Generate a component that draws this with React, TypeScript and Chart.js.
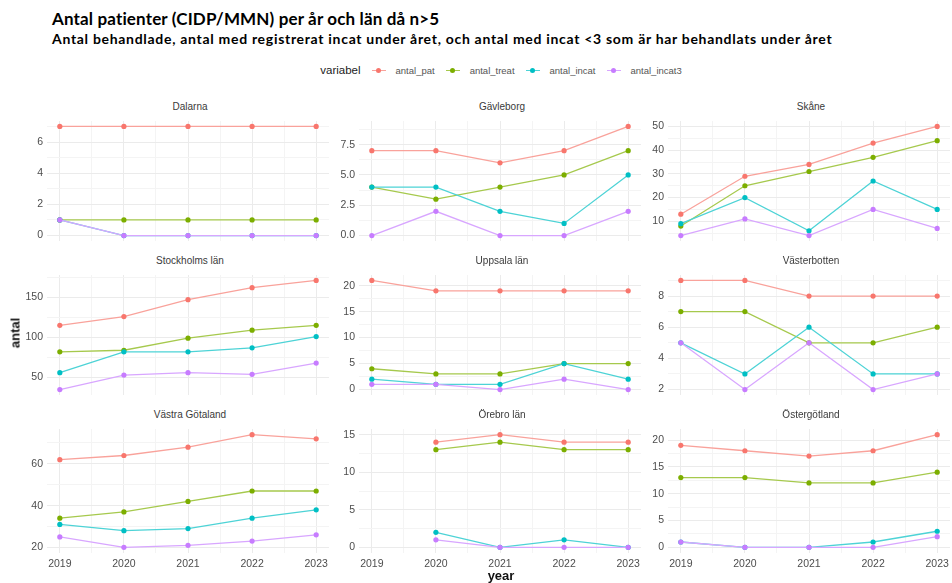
import React, { useEffect, useRef } from "react";
import { Chart, registerables } from "chart.js";
Chart.register(...registerables);

const titleText = "Antal patienter (CIDP/MMN) per år och län då n>5";
const subtitleText =
  "Antal behandlade, antal med registrerat incat under året, och antal med incat <3 som är har behandlats under året";
const legendTitle = "variabel";
const xAxisTitle = "year";
const yAxisTitle = "antal";

const years = [2019, 2020, 2021, 2022, 2023];
const regions = [
  "Dalarna",
  "Gävleborg",
  "Skåne",
  "Stockholms län",
  "Uppsala län",
  "Västerbotten",
  "Västra Götaland",
  "Örebro län",
  "Östergötland",
];

const antalPat = [
  [7, 7, 7, 7, 7],
  [7, 7, 6, 7, 9],
  [13, 29, 34, 43, 50],
  [115, 126, 147, 162, 171],
  [21, 19, 19, 19, 19],
  [9, 9, 8, 8, 8],
  [62, 64, 68, 74, 72],
  [null, 14, 15, 14, 14],
  [19, 18, 17, 18, 21],
];
const antalTreat = [
  [1, 1, 1, 1, 1],
  [4, 3, 4, 5, 7],
  [8, 25, 31, 37, 44],
  [82, 84, 99, 109, 115],
  [4, 3, 3, 5, 5],
  [7, 7, 5, 5, 6],
  [34, 37, 42, 47, 47],
  [null, 13, 14, 13, 13],
  [13, 13, 12, 12, 14],
];
const antalIncat = [
  [1, 0, 0, 0, 0],
  [4, 4, 2, 1, 5],
  [9, 20, 6, 27, 15],
  [56, 82, 82, 87, 101],
  [2, 1, 1, 5, 2],
  [5, 3, 6, 3, 3],
  [31, 28, 29, 34, 38],
  [null, 2, 0, 1, 0],
  [1, 0, 0, 1, 3],
];
const antalIncat3 = [
  [1, 0, 0, 0, 0],
  [0, 2, 0, 0, 2],
  [4, 11, 4, 15, 7],
  [35, 53, 56, 54, 68],
  [1, 1, 0, 2, 0],
  [5, 2, 5, 2, 3],
  [25, 20, 21, 23, 26],
  [null, 1, 0, 0, 0],
  [1, 0, 0, 0, 2],
];

const seriesNames = ["antal_pat", "antal_treat", "antal_incat", "antal_incat3"];
const seriesColors = ["#F8766D", "#7CAE00", "#00BFC4", "#C77CFF"];
const lineColors = ["#F9A29B", "#A6C94D", "#4DD3D6", "#D8A6FF"];

const yBreaks = [
  [0, 2, 4, 6],
  [0, 2.5, 5, 7.5],
  [10, 20, 30, 40, 50],
  [50, 100, 150],
  [0, 5, 10, 15, 20],
  [2, 4, 6, 8],
  [20, 40, 60],
  [0, 5, 10, 15],
  [0, 5, 10, 15, 20],
];

const allSeries = [antalPat, antalTreat, antalIncat, antalIncat3];

const COL_LEFT = [47, 359, 668];
const ROW_TOP = [117, 271, 425];
const PANEL_W = 286;
const PANEL_H = 128;
const AXIS_W = 34;
const XLAB_H = 24;
const FONT = "'Liberation Sans', Arial, sans-serif";

const near = (a: number, b: number) => Math.abs(a - b) < 1e-6;

function Panel({ idx }: { idx: number }) {
  const ref = useRef<HTMLCanvasElement | null>(null);
  const row = Math.floor(idx / 3);
  const col = idx % 3;
  const isBottom = row === 2;
  const w = PANEL_W + AXIS_W;
  const h = PANEL_H + (isBottom ? XLAB_H : 0);

  useEffect(() => {
    if (!ref.current) return;
    const vals: number[] = [];
    allSeries.forEach((s) => s[idx].forEach((v) => v != null && vals.push(v as number)));
    const lo = Math.min(...vals);
    const hi = Math.max(...vals);
    const yPad = (hi - lo) * 0.05;
    const yMin = lo - yPad;
    const yMax = hi + yPad;
    const majors = yBreaks[idx];
    const step = majors[1] - majors[0];
    const minors = [majors[0] - step / 2, ...majors.map((m) => m + step / 2)].filter(
      (v) => v >= yMin && v <= yMax
    );
    const yTicks = [...majors, ...minors].sort((a, b) => a - b);
    const dec = majors.some((m) => !Number.isInteger(m)) ? 1 : 0;

    const x0 = years[0];
    const x1 = years[years.length - 1];
    const xPad = (x1 - x0) * 0.05;
    const xMinorTicks = years.slice(0, -1).map((y, i) => (y + years[i + 1]) / 2);
    const xTicks = [...years, ...xMinorTicks].sort((a, b) => a - b);

    const chart = new Chart(ref.current, {
      type: "line",
      data: {
        datasets: allSeries.map((s, k) => ({
          label: seriesNames[k],
          data: years.map((yr, i) => ({ x: yr, y: s[idx][i] })),
          borderColor: lineColors[k],
          backgroundColor: seriesColors[k],
          pointBackgroundColor: seriesColors[k],
          pointBorderColor: seriesColors[k],
          pointBorderWidth: 0,
          pointRadius: 2.6,
          borderWidth: 1.3,
          tension: 0,
          spanGaps: false,
          order: allSeries.length - k,
        })),
      },
      options: {
        animation: false,
        responsive: false,
        devicePixelRatio: 1,
        events: [],
        layout: { padding: 0 },
        plugins: {
          legend: { display: false },
          tooltip: { enabled: false },
          title: { display: false },
        },
        scales: {
          x: {
            type: "linear",
            min: x0 - xPad,
            max: x1 + xPad,
            afterBuildTicks: (s: any) => {
              s.ticks = xTicks.map((v) => ({ value: v }));
            },
            afterFit: (s: any) => {
              s.height = isBottom ? XLAB_H : 0;
              s.paddingLeft = 0;
              s.paddingRight = 0;
            },
            border: { display: false },
            grid: {
              drawTicks: false,
              lineWidth: 1,
              color: (ctx: any) =>
                years.some((y) => near(y, ctx.tick?.value)) ? "#ebebeb" : "#f4f4f4",
            },
            ticks: {
              display: isBottom,
              autoSkip: false,
              maxRotation: 0,
              padding: 5,
              color: "#4d4d4d",
              font: { family: FONT, size: 10.5 },
              callback: (v: any) => (years.some((y) => near(y, v)) ? String(v) : ""),
            },
          },
          y: {
            type: "linear",
            min: yMin,
            max: yMax,
            afterBuildTicks: (s: any) => {
              s.ticks = yTicks.map((v) => ({ value: v }));
            },
            afterFit: (s: any) => {
              s.width = AXIS_W;
              s.paddingTop = 0;
              s.paddingBottom = 0;
            },
            border: { display: false },
            grid: {
              drawTicks: false,
              lineWidth: 1,
              color: (ctx: any) =>
                majors.some((m) => near(m, ctx.tick?.value)) ? "#ebebeb" : "#f4f4f4",
            },
            ticks: {
              autoSkip: false,
              padding: 4,
              color: "#4d4d4d",
              font: { family: FONT, size: 10.5 },
              callback: (v: any) => {
                const m = majors.find((mm) => near(mm, v));
                return m === undefined ? "" : m.toFixed(dec);
              },
            },
          },
        },
      } as any,
    });
    return () => chart.destroy();
  }, [idx]);

  return (
    <>
      <div
        style={{
          position: "absolute",
          left: COL_LEFT[col],
          width: PANEL_W,
          top: ROW_TOP[row] - 16,
          textAlign: "center",
          fontFamily: FONT,
          fontSize: 10,
          lineHeight: "12px",
          color: "#3a3a3a",
        }}
      >
        {regions[idx]}
      </div>
      <canvas
        ref={ref}
        width={w}
        height={h}
        style={{
          position: "absolute",
          left: COL_LEFT[col] - AXIS_W,
          top: ROW_TOP[row],
          width: w,
          height: h,
        }}
      />
    </>
  );
}

function LegendItem({ k }: { k: number }) {
  return (
    <div style={{ display: "flex", alignItems: "center", marginLeft: 11 }}>
      <div style={{ position: "relative", width: 14, height: 10 }}>
        <div
          style={{
            position: "absolute",
            left: 0,
            top: 4.5,
            width: 14,
            height: 1,
            background: lineColors[k],
          }}
        />
        <div
          style={{
            position: "absolute",
            left: 4.5,
            top: 2.5,
            width: 5,
            height: 5,
            borderRadius: "50%",
            background: seriesColors[k],
          }}
        />
      </div>
      <span style={{ marginLeft: 10, fontSize: 9.5, color: "#555" }}>{seriesNames[k]}</span>
    </div>
  );
}

export default function App() {
  return (
    <div
      style={{
        position: "absolute",
        left: 0,
        top: 0,
        width: 952,
        height: 583,
        overflow: "hidden",
        background: "#ffffff",
      }}
    >
      <div
        style={{
          position: "absolute",
          left: 52,
          top: 9,
          fontFamily: "Lato, sans-serif",
          fontWeight: 700,
          fontSize: 17,
          letterSpacing: 0.15,
          lineHeight: "20px",
          color: "#000",
          whiteSpace: "nowrap",
        }}
      >
        {titleText}
      </div>
      <div
        style={{
          position: "absolute",
          left: 52,
          top: 30,
          fontFamily: "Lato, sans-serif",
          fontWeight: 700,
          fontSize: 14,
          letterSpacing: 0.7,
          lineHeight: "17px",
          color: "#000",
          whiteSpace: "nowrap",
        }}
      >
        {subtitleText}
      </div>
      <div
        style={{
          position: "absolute",
          left: 0,
          width: 1002,
          top: 62,
          height: 16,
          display: "flex",
          justifyContent: "center",
          alignItems: "center",
          fontFamily: FONT,
        }}
      >
        <span style={{ fontSize: 11.5, color: "#222", marginRight: 0 }}>{legendTitle}</span>
        {seriesNames.map((_, k) => (
          <LegendItem key={k} k={k} />
        ))}
      </div>
      {regions.map((_, i) => (
        <Panel key={i} idx={i} />
      ))}
      <div
        style={{
          position: "absolute",
          left: 0,
          width: 1002,
          top: 568,
          textAlign: "center",
          fontFamily: FONT,
          fontWeight: 700,
          fontSize: 13,
          lineHeight: "15px",
          color: "#111",
        }}
      >
        {xAxisTitle}
      </div>
      <div
        style={{
          position: "absolute",
          left: 15,
          top: 333,
          transform: "translate(-50%, -50%) rotate(-90deg)",
          fontFamily: FONT,
          fontWeight: 700,
          fontSize: 13,
          lineHeight: "15px",
          color: "#111",
        }}
      >
        {yAxisTitle}
      </div>
    </div>
  );
}
